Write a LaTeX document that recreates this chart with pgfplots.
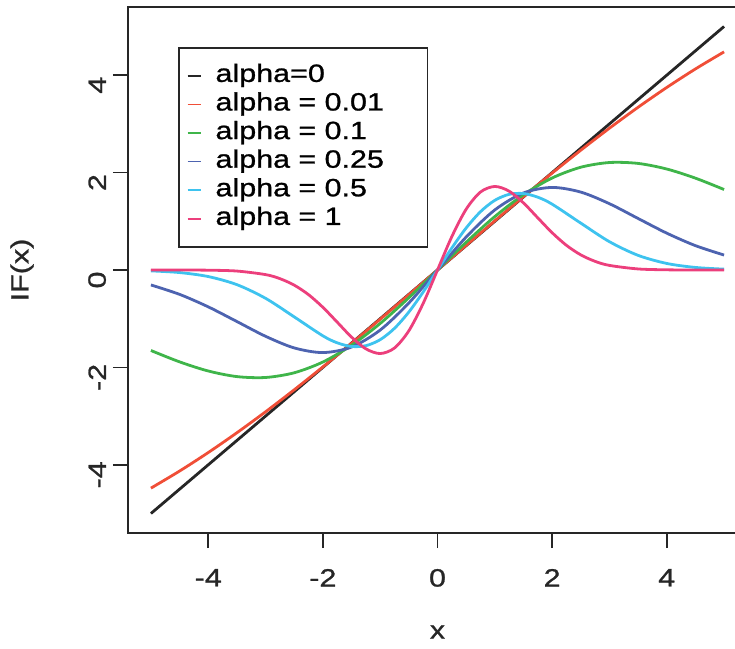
\documentclass[border=0pt]{standalone}
\usepackage{pgfplots}
\pgfplotsset{compat=1.18}
\usepackage{fontspec}
\setmainfont{Liberation Sans}[FakeStretch=1.22, FakeBold=1]

\definecolor{cZero}{HTML}{262626}
\definecolor{cA}{HTML}{F04E37}
\definecolor{cB}{HTML}{3FB54A}
\definecolor{cC}{HTML}{4D63B0}
\definecolor{cD}{HTML}{3EC3EF}
\definecolor{cE}{HTML}{EC3F7C}

\begin{document}
\begin{tikzpicture}
\begin{axis}[
  scale only axis,
  width=309.5pt, height=263pt,
  xmin=-5.4, xmax=5.4, ymin=-5.4, ymax=5.4,
  axis line style={line width=0.9pt, color=black!85},
  tick align=outside,
  xtick pos=bottom, ytick pos=left,
  major tick length=7.5pt,
  tick style={line width=0.8pt, color=black!85},
  xtick={-4,-2,0,2,4}, xticklabels={-4,-2,0,2,4},
  ytick={-4,-2,0,2,4}, yticklabels={-4,-2,0,2,4},
  ticklabel style={font=\fontsize{12.5}{15}\selectfont, color=black!85},
  xticklabel style={anchor=north, yshift=-7pt},
  yticklabel style={rotate=90, anchor=south, xshift=-5pt},
  xlabel={x}, ylabel={IF(x)},
  label style={font=\fontsize{12.5}{15}\selectfont, color=black!85},
  xlabel style={at={(axis description cs:0.5,-0.1882)}, anchor=center},
  ylabel style={at={(axis description cs:-0.1712,0.5)}, anchor=center},
  legend cell align=left,
  legend image code/.code={\draw[#1, line width=0.8pt] (0pt,0pt) -- (6.5pt,0pt);},
  legend style={
    at={(axis description cs:0.0808,0.924)}, anchor=north west,
    draw=black!85, line width=0.9pt,
    inner xsep=4pt, inner ysep=8pt,
    font=\fontsize{12.5}{15}\selectfont,
    nodes={inner sep=0pt, text height=9pt, text depth=3pt},
    row sep=2.3pt,
    /tikz/every odd column/.append style={column sep=7pt},
    /tikz/every even column/.append style={text width=102pt},
  },
  every axis plot/.append style={line width=1.4pt, smooth},
]
% alpha = 0 : the identity
\addplot[color=cZero] coordinates {(-5,-5) (5,5)};
\addlegendentry{alpha=0}

% alpha = 0.01
\addplot[color=cA] coordinates {
 (-5,-4.47900) (-4.5,-4.12797) (-4,-3.74813) (-3.5,-3.34162) (-3,-2.91121)
 (-2.5,-2.45961) (-2,-1.98995) (-1.5,-1.50558) (-1,-1.01001) (-0.5,-0.50690)
 (0,0)
 (0.5,0.50690) (1,1.01001) (1.5,1.50558) (2,1.98995) (2.5,2.45961)
 (3,2.91121) (3.5,3.34162) (4,3.74813) (4.5,4.12797) (5,4.47900)};
\addlegendentry{alpha = 0.01}

% alpha = 0.1
\addplot[color=cB] coordinates {
 (-5,-1.65269) (-4.5,-1.88614) (-4,-2.07354) (-3.5,-2.18852) (-3,-2.20687)
 (-2.5,-2.11015) (-2,-1.88912) (-1.5,-1.54640) (-1,-1.09742) (-0.5,-0.56968)
 (0,0)
 (0.5,0.56968) (1,1.09742) (1.5,1.54640) (2,1.88912) (2.5,2.11015)
 (3,2.20687) (3.5,2.18852) (4,2.07354) (4.5,1.88614) (5,1.65269)};
\addlegendentry{alpha = 0.1}

% alpha = 0.25
\addplot[color=cC] coordinates {
 (-5,-0.30702) (-4.5,-0.50035) (-4,-0.75654) (-3.5,-1.05783) (-3,-1.36114)
 (-2.5,-1.59961) (-2,-1.69530) (-1.5,-1.58238) (-1,-1.23332) (-0.5,-0.67727)
 (0,0)
 (0.5,0.67727) (1,1.23332) (1.5,1.58238) (2,1.69530) (2.5,1.59961)
 (3,1.36114) (3.5,1.05783) (4,0.75654) (4.5,0.50035) (5,0.30702)};
\addlegendentry{alpha = 0.25}

% alpha = 0.5
\addplot[color=cD] coordinates {
 (-5,-0.01773) (-4.5,-0.05236) (-4,-0.13459) (-3.5,-0.30073) (-3,-0.58089)
 (-2.5,-0.96270) (-2,-1.35167) (-1.75,-1.49507) (-1.5,-1.57012) (-1.25,-1.55382)
 (-1,-1.43075) (-0.75,-1.19708) (-0.5,-0.86290) (-0.25,-0.45216)
 (0,0)
 (0.25,0.45216) (0.5,0.86290) (0.75,1.19708) (1,1.43075) (1.25,1.55382)
 (1.5,1.57012) (1.75,1.49507) (2,1.35167) (2.5,0.96270) (3,0.58089)
 (3.5,0.30073) (4,0.13459) (4.5,0.05236) (5,0.01773)};
\addlegendentry{alpha = 0.5}

% alpha = 1
\addplot[color=cE] coordinates {
 (-5,0) (-4.5,-0.00051) (-4,-0.00379) (-3.5,-0.02165) (-3,-0.09426)
 (-2.75,-0.17730) (-2.5,-0.31068) (-2.25,-0.50632) (-2,-0.76557)
 (-1.75,-1.07045) (-1.5,-1.37738) (-1.25,-1.61866) (-1,-1.71553)
 (-0.75,-1.60125) (-0.5,-1.24804) (-0.25,-0.68535)
 (0,0)
 (0.25,0.68535) (0.5,1.24804) (0.75,1.60125) (1,1.71553) (1.25,1.61866)
 (1.5,1.37738) (1.75,1.07045) (2,0.76557) (2.25,0.50632) (2.5,0.31068)
 (2.75,0.17730) (3,0.09426) (3.5,0.02165) (4,0.00379) (4.5,0.00051) (5,0)};
\addlegendentry{alpha = 1}
\end{axis}
% page extent: the right-hand part of the frame lies beyond the page edge
\pgfresetboundingbox
\path[use as bounding box] (-64pt,-58pt) rectangle (303.5pt,266.5pt);
\end{tikzpicture}
\end{document}
